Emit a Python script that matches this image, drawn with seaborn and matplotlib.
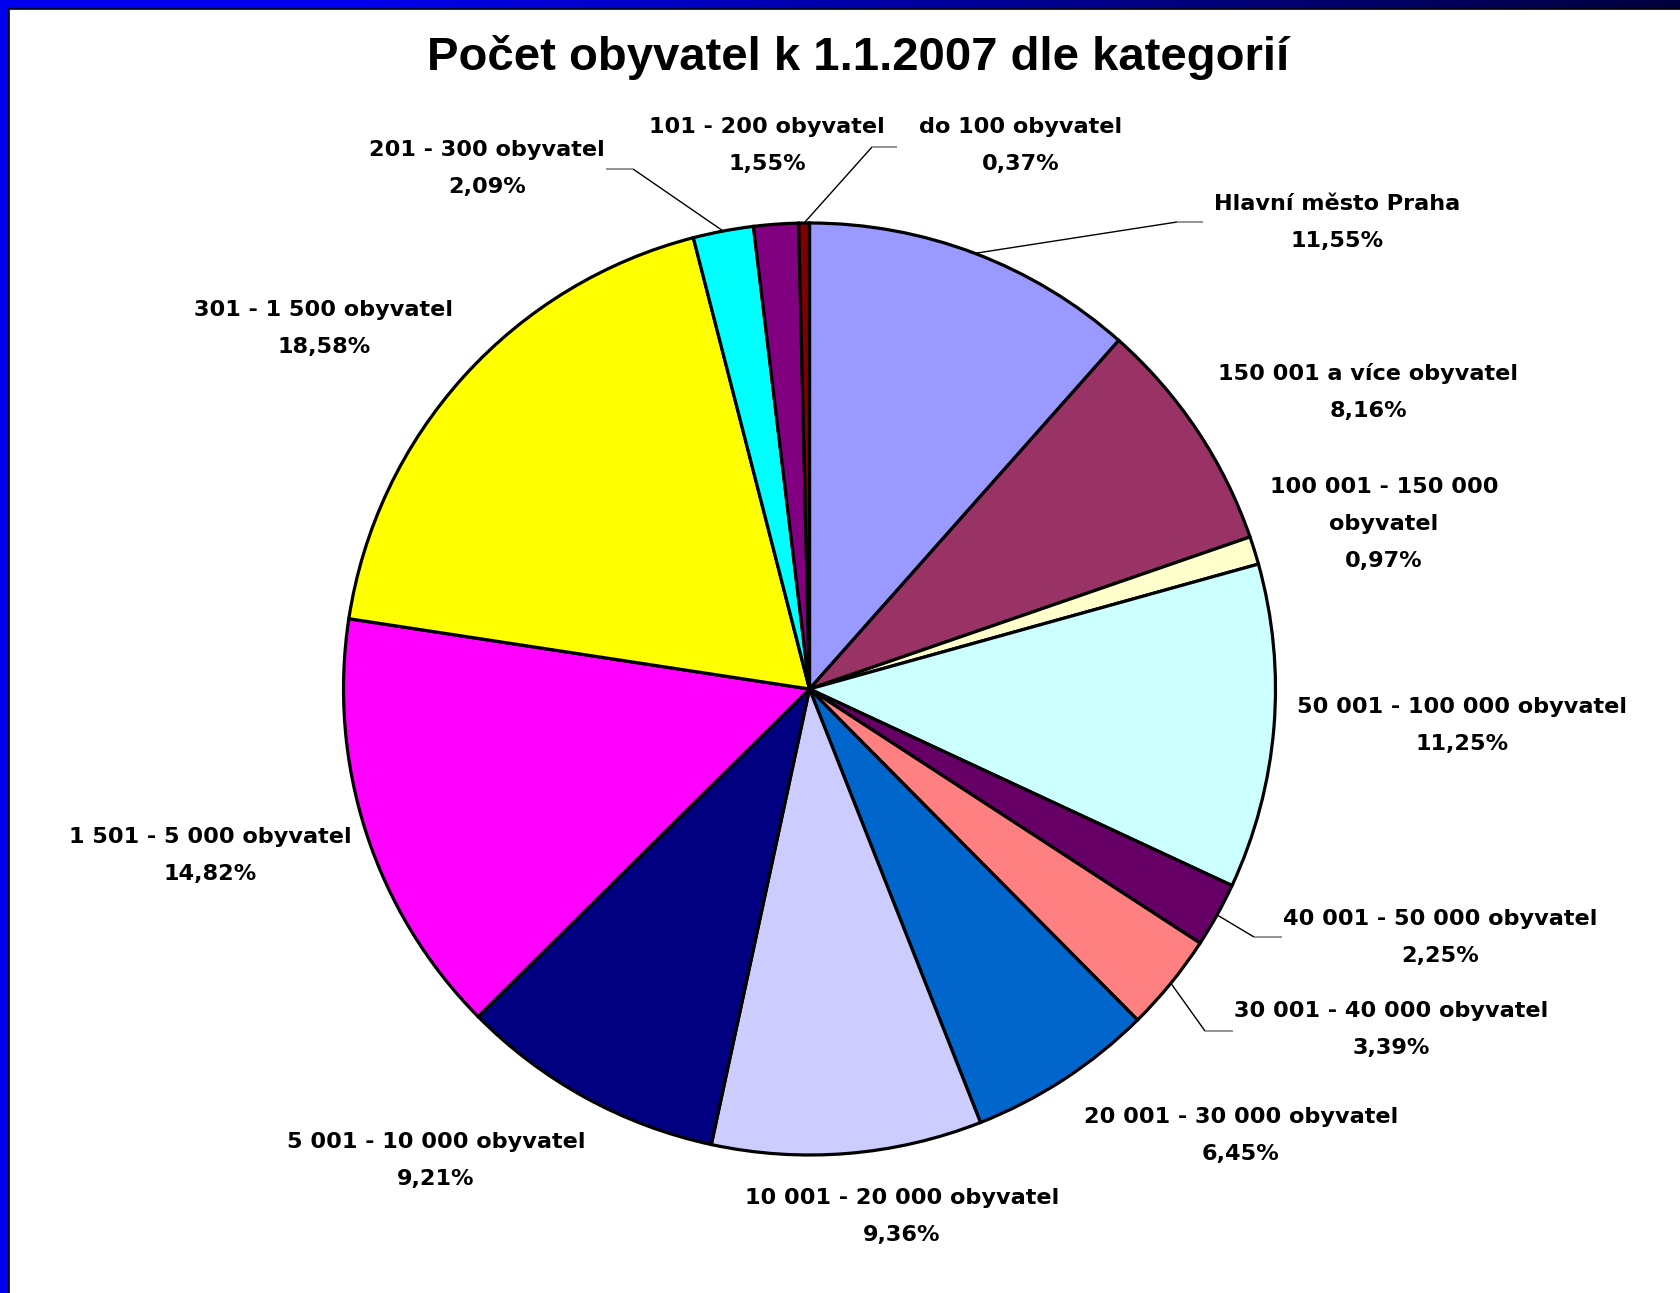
import numpy as np
import matplotlib
matplotlib.use("Agg")
import matplotlib.pyplot as plt
import seaborn as sns

# ---------------- data ----------------
categories = [
    "Hlavní město Praha",
    "150 001 a více obyvatel",
    "100 001 - 150 000\nobyvatel",
    "50 001 - 100 000 obyvatel",
    "40 001 - 50 000 obyvatel",
    "30 001 - 40 000 obyvatel",
    "20 001 - 30 000 obyvatel",
    "10 001 - 20 000 obyvatel",
    "5 001 - 10 000 obyvatel",
    "1 501 - 5 000 obyvatel",
    "301 - 1 500 obyvatel",
    "201 - 300 obyvatel",
    "101 - 200 obyvatel",
    "do 100 obyvatel",
]
shares = [11.55, 8.16, 0.97, 11.25, 2.25, 3.39, 6.45, 9.36, 9.21, 14.82, 18.58, 2.09, 1.55, 0.37]
colors = ["#9999FF", "#993366", "#FFFFCC", "#CCFFFF", "#660066", "#FF8080", "#0066CC",
          "#CCCCFF", "#000080", "#FF00FF", "#FFFF00", "#00FFFF", "#800080", "#800000"]
title = "Počet obyvatel k 1.1.2007 dle kategorií"

# ---------------- layout (pixel positions, y measured from top) ----------------
W, H = 1681, 1293
CX, CY, R = 809.5, 689.0, 466.0
label_pos = [  # (x center, y of first line center)
    (1337, 202), (1368, 372), (1384, 485), (1462, 705), (1440, 917), (1391, 1009),
    (1241, 1115), (902, 1196), (436, 1140), (210, 835), (324, 308), (487, 148),
    (767, 125), (1021, 125),
]
line_gap = 37.0
# leader lines: index -> (knee x, knee y, end x)
leaders = {0: (1177, 222, 1203), 4: (1254, 937, 1282), 5: (1205, 1031, 1233),
           11: (633, 169, 606), 13: (872, 147, 897)}

sns.set_theme(style="white")
plt.rcParams["font.family"] = ["DejaVu Sans"]

fig = plt.figure(figsize=(W / 100, H / 100), dpi=100)
fig.patch.set_facecolor("white")
ax = fig.add_axes([0, 0, 1, 1])

def fy(y):
    return H - y

ax.pie(shares, colors=colors, startangle=90, counterclock=False,
       center=(CX, fy(CY)), radius=R,
       wedgeprops=dict(edgecolor="black", linewidth=2.3))
ax.set_xlim(0, W)
ax.set_ylim(0, H)
ax.set_aspect("auto")
ax.axis("off")

# labels
for i, (cat, v) in enumerate(zip(categories, shares)):
    lines = cat.split("\n") + [f"{v:.2f}".replace(".", ",") + "%"]
    x, y0 = label_pos[i]
    for k, t in enumerate(lines):
        ax.text(x, fy(y0 + 2 + k * line_gap), t, ha="center", va="center",
                fontsize=16.1, fontweight="bold", color="black")

# leader lines, end point on the pie edge from the wedge mid angle
cum = np.cumsum([0] + shares)
for i, (kx, ky, ex) in leaders.items():
    mid = (cum[i] + cum[i + 1]) / 2 / 100 * 2 * np.pi
    px = CX + R * np.sin(mid)
    py = CY - R * np.cos(mid)
    ax.plot([px, kx], [fy(py), fy(ky)], color="black", lw=1.0, solid_capstyle="butt")
    ax.plot([kx, ex], [fy(ky), fy(ky)], color="#808080", lw=1.2, solid_capstyle="butt")

# title
ax.text(858, fy(57), title, ha="center", va="center", fontsize=34, fontweight="bold",
        family=["Liberation Sans", "DejaVu Sans"], color="black")

# frame: gradient top bar and blue left bar
bar = 9
grad_x = np.linspace(0, W, 400)
blue = np.where(grad_x < 350, 238, 238 - (grad_x - 350) / (W - 350) * 178) / 255.0
grad = np.zeros((1, len(grad_x), 3))
grad[0, :, 2] = blue
axt = fig.add_axes([0, 1 - bar / H, 1, bar / H])
axt.imshow(grad, aspect="auto", extent=(0, 1, 0, 1))
axt.axis("off")
axl = fig.add_axes([0, 0, bar / W, 1 - bar / H])
axl.set_facecolor((0, 0, 238 / 255))
axl.set_xticks([]); axl.set_yticks([])
for s in axl.spines.values():
    s.set_visible(False)
fig.add_artist(plt.Line2D([bar / W, 1], [1 - bar / H, 1 - bar / H], color="black", lw=1.2))
fig.add_artist(plt.Line2D([bar / W, bar / W], [0, 1 - bar / H], color="black", lw=1.2))

fig.savefig("out.png", dpi=100, facecolor="white")
